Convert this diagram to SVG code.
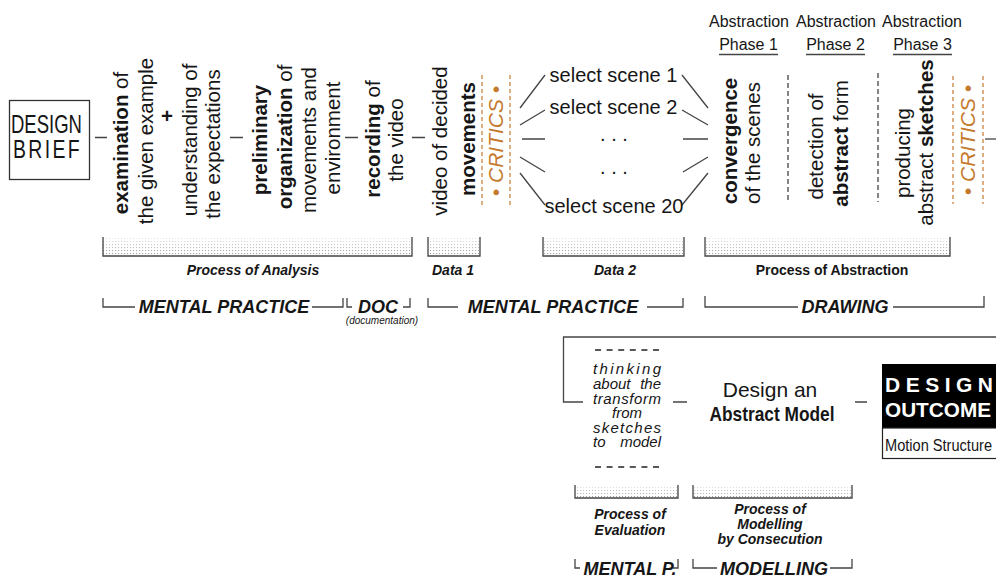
<svg xmlns="http://www.w3.org/2000/svg" width="996" height="578" viewBox="0 0 996 578">
<defs>
<style>
text{font-family:"Liberation Sans",Arial,sans-serif;fill:#161616}
.r{font-size:20.5px}
.b{font-weight:bold}
.crit{fill:#C47A2C;font-style:italic;font-size:21px}
.ab{font-size:16px}
.lab{font-size:14px;font-weight:bold;font-style:italic}
.big{font-size:18px;font-weight:bold;font-style:italic}
.it{font-size:15px;font-style:italic}
.ln{stroke:#444;stroke-width:1.3;fill:none}
.dsh{stroke:#333;stroke-width:1.2;stroke-dasharray:5 3;fill:none}
.odsh{stroke:#C8843F;stroke-width:1.3;stroke-dasharray:4 3;fill:none}
.bdsh{stroke:#222;stroke-width:1.5;stroke-dasharray:6 5.6;fill:none}
</style>
<pattern id="dots" width="3" height="3" patternUnits="userSpaceOnUse"><rect x="1" y="1" width="1.1" height="1.1" fill="#8a8a8a"/></pattern>
<linearGradient id="fade" x1="0" y1="0" x2="0" y2="1"><stop offset="0" stop-color="#fff" stop-opacity="0.8"/><stop offset="1" stop-color="#fff" stop-opacity="0.1"/></linearGradient>
</defs>
<rect width="996" height="578" fill="#fff"/>

<g id="connectors">
<path class="ln" d="M95,137.5H107M230,137.5H243M345,137.5H358M412,137.5H425"/>
<path class="ln" d="M520,108L545,75M520,125L545,110M522,139H545M520,157L545,172M520,173L545,205"/>
<path class="ln" d="M682,75L708,108M682,110L708,125M683,139H708M683,172L708,157M682,205L708,173"/>
<path class="ln" d="M985,139H996"/>
<path class="ln" d="M996,337H563.5V402H583"/>
<path class="ln" d="M673,402H687M855,402H867"/>
</g>

<g id="design-brief">
<rect x="9.5" y="100.5" width="80" height="79" fill="#fff" stroke="#333" stroke-width="1.3"/>
<text x="11" y="133" font-size="25" textLength="71" lengthAdjust="spacingAndGlyphs">DESIGN</text>
<text x="13" y="158" font-size="25" textLength="69" lengthAdjust="spacingAndGlyphs" letter-spacing="3">BRIEF</text>
</g>

<g id="examination" class="r" text-anchor="middle">
<text transform="translate(127.5,143) rotate(-90)"><tspan class="b">examination</tspan> of</text>
<text transform="translate(152.5,141) rotate(-90)">the given example</text>
</g>
<g id="plus"><text x="167" y="123" class="r b" text-anchor="middle">+</text></g>
<g id="understanding" class="r" text-anchor="middle">
<text transform="translate(196.5,140) rotate(-90)">understanding of</text>
<text transform="translate(219.5,144) rotate(-90)">the expectations</text>
</g>
<g id="organization" class="r" text-anchor="middle">
<text transform="translate(266.5,140) rotate(-90)" class="b">preliminary</text>
<text transform="translate(291.5,137) rotate(-90)"><tspan class="b">organization</tspan> of</text>
<text transform="translate(316,140) rotate(-90)">movements and</text>
<text transform="translate(339.5,138) rotate(-90)">environment</text>
</g>
<g id="recording" class="r" text-anchor="middle">
<text transform="translate(379.5,139) rotate(-90)"><tspan class="b">recording</tspan> of</text>
<text transform="translate(402.5,140) rotate(-90)">the video</text>
</g>
<g id="video" class="r" text-anchor="middle">
<text transform="translate(446.5,141) rotate(-90)">video of decided</text>
<text transform="translate(474.5,139) rotate(-90)" class="b">movements</text>
</g>
<g id="critics-1">
<path class="odsh" d="M482,75V205M510,75V205"/>
<text class="crit" text-anchor="middle" transform="translate(503,141) rotate(-90)">• CRITICS •</text>
</g>
<g id="scenes" text-anchor="middle">
<text x="613.5" y="82" style="font-size:20px">select scene 1</text>
<text x="613.5" y="114" style="font-size:20px">select scene 2</text>
<text x="614" y="141" style="font-size:20px">. . .</text>
<text x="614" y="174" style="font-size:20px">. . .</text>
<text x="614" y="213" style="font-size:20px">select scene 20</text>
</g>
<g id="phase-labels" class="ab" text-anchor="middle">
<text x="749" y="27">Abstraction</text>
<text x="836" y="27">Abstraction</text>
<text x="922" y="27">Abstraction</text>
<text x="748.5" y="50">Phase 1</text>
<text x="835.5" y="50">Phase 2</text>
<text x="922.5" y="50">Phase 3</text>
<path class="ln" d="M719,54.5H778M806,54.5H865M893,54.5H952"/>
</g>
<g id="convergence" class="r" text-anchor="middle">
<text transform="translate(736.5,141) rotate(-90)" class="b">convergence</text>
<text transform="translate(759.5,143) rotate(-90)">of the scenes</text>
</g>
<g id="sep-1"><path class="dsh" d="M788,75V202"/></g>
<g id="detection" class="r" text-anchor="middle">
<text transform="translate(822.5,146.5) rotate(-90)">detection of</text>
<text transform="translate(847.5,143.5) rotate(-90)"><tspan class="b">abstract</tspan> form</text>
</g>
<g id="sep-2"><path class="dsh" d="M878,73V202"/></g>
<g id="producing" class="r" text-anchor="middle">
<text transform="translate(909.5,153) rotate(-90)">producing</text>
<text transform="translate(932.5,142.5) rotate(-90)">abstract <tspan class="b">sketches</tspan></text>
</g>
<g id="critics-2">
<path class="odsh" d="M953,76V204M983,76V204"/>
<text class="crit" text-anchor="middle" transform="translate(975,140) rotate(-90)">• CRITICS •</text>
</g>

<g id="bars">
<rect x="103" y="238" width="309" height="18" fill="url(#dots)"/><rect x="103" y="238" width="309" height="18" fill="url(#fade)"/>
<path class="ln" d="M103,237V256H412V237"/>
<rect x="428" y="238" width="52" height="18" fill="url(#dots)"/><rect x="428" y="238" width="52" height="18" fill="url(#fade)"/>
<path class="ln" d="M428,237V256H480V237"/>
<rect x="543" y="238" width="141" height="18" fill="url(#dots)"/><rect x="543" y="238" width="141" height="18" fill="url(#fade)"/>
<path class="ln" d="M543,237V256H684V237"/>
<rect x="705" y="238" width="245" height="18" fill="url(#dots)"/><rect x="705" y="238" width="245" height="18" fill="url(#fade)"/>
<path class="ln" d="M705,237V256H950V237"/>
<rect x="575" y="486" width="103" height="12" fill="url(#dots)"/><rect x="575" y="486" width="103" height="12" fill="url(#fade)"/>
<path class="ln" d="M575,485V498H678V485"/>
<rect x="693" y="486" width="159" height="12" fill="url(#dots)"/><rect x="693" y="486" width="159" height="12" fill="url(#fade)"/>
<path class="ln" d="M693,485V498H852V485"/>
</g>

<g id="process-labels" text-anchor="middle">
<text x="253" y="275" class="lab">Process of Analysis</text>
<text x="453" y="275" class="lab">Data 1</text>
<text x="615" y="275" class="lab">Data 2</text>
<text x="832" y="275" style="font-size:14px;font-weight:bold">Process of Abstraction</text>
<text x="630" y="519" class="lab">Process of</text>
<text x="630" y="535" class="lab">Evaluation</text>
<text x="770" y="514" class="lab">Process of</text>
<text x="770" y="529" class="lab">Modelling</text>
<text x="770" y="544" class="lab">by Consecution</text>
</g>

<g id="practice-brackets">
<path class="ln" d="M103,298V307H135M312,307H343V298"/>
<text x="224" y="313" class="big" text-anchor="middle">MENTAL PRACTICE</text>
<path class="ln" d="M347,298V307H352M403,307H410V298"/>
<text x="378" y="313" class="big" text-anchor="middle">DOC</text>
<text x="382" y="324" text-anchor="middle" style="font-size:10px;font-style:italic">(documentation)</text>
<path class="ln" d="M428,298V307H458M647,307H683V298"/>
<text x="553" y="313" class="big" text-anchor="middle">MENTAL PRACTICE</text>
<path class="ln" d="M705,296V307H798M893,307H984V296"/>
<text x="845" y="313" class="big" text-anchor="middle">DRAWING</text>
<path class="ln" d="M575,559V568H580M673,568H678V559"/>
<text x="630" y="575" class="big" text-anchor="middle">MENTAL P.</text>
<path class="ln" d="M693,559V568H717M830,568H852V559"/>
<text x="774" y="575" class="big" text-anchor="middle">MODELLING</text>
</g>

<g id="thinking">
<path class="bdsh" d="M595,350H661M595,467H661"/>
<text x="593" y="374" class="it" textLength="68">thinking</text>
<text x="593" y="389" class="it">about</text><text x="661" y="389" class="it" text-anchor="end">the</text>
<text x="593" y="404" class="it" textLength="68">transform</text>
<text x="627" y="418" class="it" text-anchor="middle">from</text>
<text x="593" y="433" class="it" textLength="68">sketches</text>
<text x="593" y="447" class="it">to</text><text x="661" y="447" class="it" text-anchor="end">model</text>
</g>

<g id="abstract-model" text-anchor="middle">
<text x="770" y="397" style="font-size:21px">Design an</text>
<text x="772" y="421" class="b" style="font-size:21px" textLength="125" lengthAdjust="spacingAndGlyphs">Abstract Model</text>
</g>

<g id="design-outcome">
<rect x="882" y="364" width="120" height="64" fill="#000"/>
<rect x="882.5" y="428" width="120" height="30.5" fill="#fff" stroke="#222" stroke-width="1.2"/>
<text x="885" y="392" class="b" style="font-size:21px;fill:#fff" textLength="108" lengthAdjust="spacing">DESIGN</text>
<text x="885" y="417" class="b" style="font-size:21px;fill:#fff" textLength="106" lengthAdjust="spacingAndGlyphs">OUTCOME</text>
<text x="885" y="451" style="font-size:16px" textLength="107" lengthAdjust="spacingAndGlyphs">Motion Structure</text>
</g>
</svg>
